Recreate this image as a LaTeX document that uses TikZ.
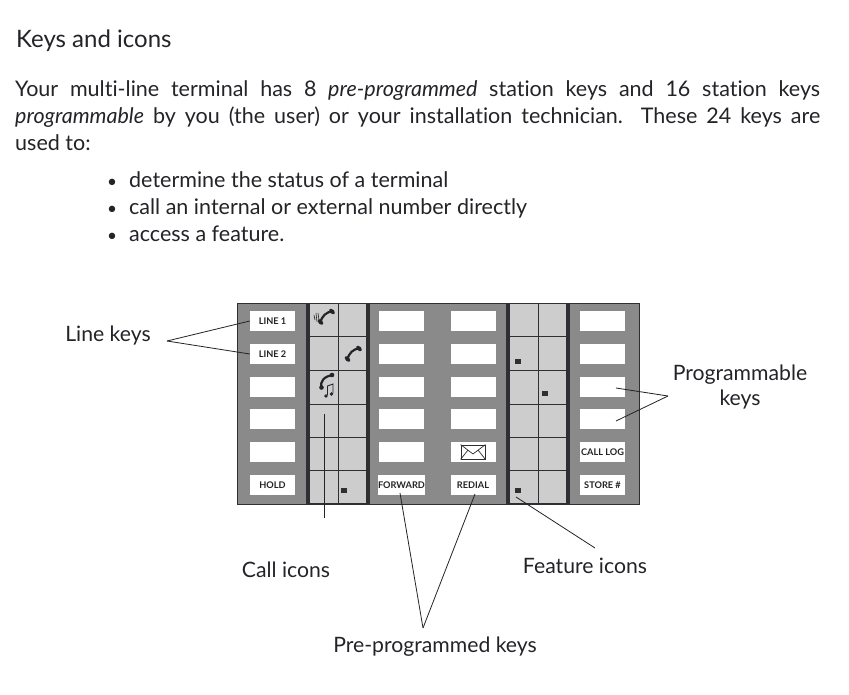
\documentclass[tikz,border=0pt]{standalone}
\usepackage{fontspec}
\setmainfont[Ligatures=NoCommon]{Lato}
\usetikzlibrary{positioning,calc}
\definecolor{panelgray}{RGB}{138,138,138}
\definecolor{stripgray}{RGB}{205,205,205}
\definecolor{bardark}{RGB}{45,47,50}
\definecolor{inkdark}{RGB}{35,35,40}
\tikzset{
  keybox/.style ={rectangle, fill=white, minimum width=45pt, minimum height=20pt,
                  inner sep=0pt, font=\fontsize{9.2}{9}\selectfont\bfseries, text=inkdark},
  label/.style  ={font=\fontsize{21.2}{25}\selectfont, text=inkdark, align=center, inner sep=0pt},
  bodytxt/.style={font=\fontsize{21.5}{27}\selectfont, text=inkdark, inner sep=0pt},
  leader/.style ={draw=inkdark, line width=0.8pt},
  marker/.style ={rectangle, fill=bardark, minimum width=6pt, minimum height=5pt, inner sep=0pt},
  handset/.style={draw=inkdark, line width=2.2pt, line cap=round},
}
\begin{document}
\begin{tikzpicture}[x=1pt,y=-1pt]
\useasboundingbox (0,0) rectangle (849,695);
% heading and paragraph
\node[bodytxt, anchor=base west, font=\fontsize{24}{28}\selectfont] (title) at (16,48) {Keys and icons};
\node[bodytxt, anchor=north west, text width=805pt, align=justify] (para) at (15,80.5)
  {Your multi-line terminal has 8 \textit{pre-programmed} station keys and 16 station keys\linebreak
   \textit{programmable} by you (the user) or your installation technician.\ \ These 24 keys are\linebreak
   used to:};
\foreach \n/\y/\t in {b1/188/determine the status of a terminal,
                      b2/215/call an internal or external number directly,
                      b3/242/access a feature.}
  \node[bodytxt, anchor=base west] (\n) at (107,\y) {\makebox[22pt][l]{\scalebox{0.8}{\textbullet}}\t};
% panel
\fill[panelgray] (237,303) rectangle (639,504);
\draw[bardark, line width=1pt] (237,303) -- (639,303) -- (639,504) -- (237,504) -- cycle;
\foreach \a/\b in {306/370,506/570} {
  \fill[bardark] (\a,303) rectangle (\b,504);
  \fill[stripgray] (\a+4,304) rectangle (\b-4,503);
  \draw[bardark, line width=0.9pt] ({(\a+\b)/2},303) -- ({(\a+\b)/2},504);
  \foreach \y in {336,370,404,437,470}
    \draw[bardark, line width=0.9pt] (\a+4,\y) -- (\b-4,\y);
}
% keys
\foreach \c/\x/\rows in {a/272.5/{3,4,5},b/401.5/{1,2,3,4,5},c/473/{1,2,3,4},d/602.5/{1,2,3,4}}
  \foreach \r in \rows
    \node[keybox] (\c\r) at (\x,{321+32.8*(\r-1)}) {};
\foreach \n/\x/\y/\t in {a1/272.5/321/LINE 1,a2/272.5/354/LINE 2,a6/272.5/485/HOLD,
                         b6/401.5/485/FORWARD,c5/473/452/{},c6/473/485/REDIAL,
                         d5/602.5/452/CALL LOG,d6/602.5/485/STORE \#}
  \node[keybox] (\n) at (\x,\y) {\t};
% envelope
\node[rectangle, draw=bardark, line width=0.8pt, minimum width=24pt, minimum height=14pt, inner sep=0pt] (mail) at (c5) {};
\draw[bardark, line width=0.7pt] (mail.north west) -- (473,454) -- (mail.north east)
  (mail.south west) -- (468,450) (mail.south east) -- (478,450);
% icons in the strips
\node[marker] (m1) at (344,490.5) {};
\node[marker] (m2) at (518,361) {};
\node[marker] (m3) at (544.5,393.5) {};
\node[marker] (m4) at (518,490.5) {};
\foreach \dx/\dy in {0/0,27/37} {
  \draw[handset] (320+\dx,323+\dy) .. controls (322+\dx,316+\dy) and (326+\dx,312+\dy) .. (333+\dx,311+\dy);
  \fill[inkdark, rotate around={-45:(320.5+\dx,322+\dy)}] (320.5+\dx,322+\dy) ellipse (3.4pt and 2pt);
  \fill[inkdark, rotate around={-45:(332+\dx,311.5+\dy)}] (332+\dx,311.5+\dy) ellipse (3.4pt and 2pt);
}
\draw[inkdark, line width=0.6pt] (316,313) -- (317,322) (314,315) -- (315,320) (318,313) -- (319,320);
\draw[handset] (322,388) .. controls (319,381) and (325,376) .. (333,375);
\fill[inkdark] (321.5,387.5) circle (2.3pt) (332,375) circle (2.3pt);
\draw[inkdark, line width=0.9pt] (327.5,395) -- (327.5,386) -- (333,384) -- (333,393);
\fill[inkdark] (326,396) circle (1.8pt) (331.5,394) circle (1.8pt);
% leaders
\node[label] (linekeys) at (108,336) {Line keys};
\node[label] (callicons) at (286,570) {Call icons};
\node[label] (featicons) at (585,566) {Feature icons};
\node[label] (prekeys) at (435,647) {Pre-programmed keys};
\node[label] (progkeys) at (740,387) {Programmable\\keys};
\coordinate (lineapex) at (167,341);
\coordinate (callend) at (324,518);
\coordinate (callstart) at (324,414);
\coordinate (preapex) at (423,628);
\coordinate (featend) at (595,548);
\coordinate (progapex) at (668,396);
\draw[leader] (lineapex) -- (a1.west);
\draw[leader] (lineapex) -- (a2.west);
\draw[leader] (callstart) -- (callend);
\draw[leader] (preapex) -- (400,493);
\draw[leader] (preapex) -- (475,494);
\draw[leader] (featend) -- (516,497);
\draw[leader] (progapex) -- (616,388);
\draw[leader] (progapex) -- (616,421);
\end{tikzpicture}
\end{document}
